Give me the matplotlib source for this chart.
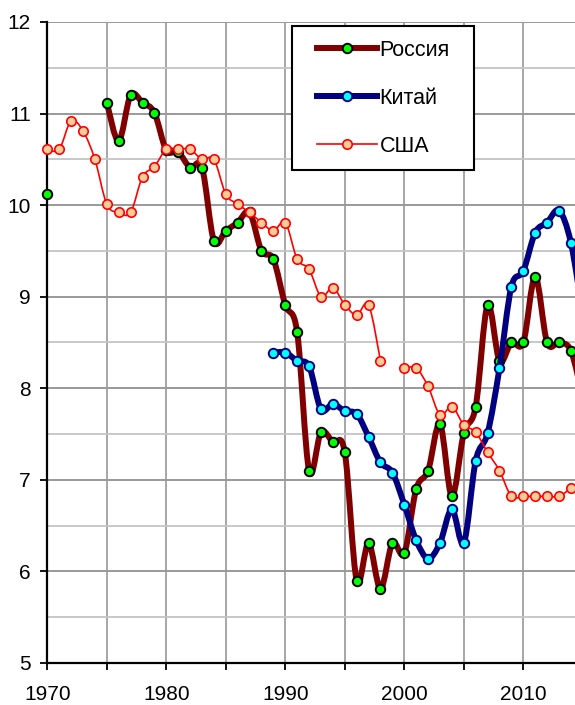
import numpy as np
import matplotlib
matplotlib.use("Agg")
import matplotlib.pyplot as plt
from matplotlib.path import Path
from matplotlib.patches import PathPatch, Rectangle
from matplotlib.lines import Line2D
from matplotlib.transforms import Bbox, TransformedBbox
from matplotlib.ticker import MultipleLocator, FuncFormatter

plt.rcParams['font.family'] = ['Liberation Sans', 'DejaVu Sans']

nan = np.nan
years = np.arange(1970, 2016)

russia = [10.12, nan, nan, nan, nan, 11.12, 10.70, 11.20, 11.12, 11.01,
          10.60, 10.58, 10.41, 10.41, 9.61, 9.72, 9.81, 9.92, 9.50, 9.41,
          8.91, 8.61, 7.10, 7.52, 7.41, 7.30, 5.90, 6.31, 5.81, 6.31,
          6.20, 6.90, 7.10, 7.61, 6.82, 7.51, 7.80, 8.91, 8.30, 8.50,
          8.50, 9.22, 8.50, 8.50, 8.41, 7.90]

china = [nan] * 19 + [8.39,
         8.39, 8.30, 8.24, 7.77, 7.83, 7.75, 7.72, 7.47, 7.19, 7.08,
         6.73, 6.34, 6.14, 6.31, 6.68, 6.31, 7.21, 7.51, 8.22, 9.11,
         9.28, 9.70, 9.81, 9.94, 9.59, 8.80]

usa = [10.61, 10.61, 10.92, 10.81, 10.50, 10.01, 9.92, 9.92, 10.31, 10.42,
       10.61, 10.61, 10.61, 10.50, 10.50, 10.12, 10.01, 9.92, 9.81, 9.72,
       9.81, 9.41, 9.30, 9.00, 9.10, 8.91, 8.80, 8.91, 8.30, nan,
       8.22, 8.22, 8.02, 7.71, 7.80, 7.60, 7.52, 7.30, 7.10, 6.82,
       6.82, 6.82, 6.82, 6.82, 6.91, nan]

labels = ["Россия", "Китай", "США"]


def smooth_path(x, y):
    # Excel-like smoothed line: cubic bezier through the points
    verts = [(x[0], y[0])]
    codes = [Path.MOVETO]
    n = len(x)
    for i in range(n - 1):
        p0 = i - 1 if i > 0 else i
        p3 = i + 2 if i + 2 < n else i + 1
        c1 = (x[i] + (x[i + 1] - x[p0]) / 6, y[i] + (y[i + 1] - y[p0]) / 6)
        c2 = (x[i + 1] - (x[p3] - x[i]) / 6, y[i + 1] - (y[p3] - y[i]) / 6)
        verts += [c1, c2, (x[i + 1], y[i + 1])]
        codes += [Path.CURVE4] * 3
    return Path(verts, codes)


def draw_series(ax, vals, color, lw, mfc, mec, ms, mew, z):
    vals = np.array(vals, dtype=float)
    ok = ~np.isnan(vals)
    # split into runs of consecutive values
    runs = []
    cur = []
    for i in range(len(vals)):
        if ok[i]:
            cur.append(i)
        else:
            if cur:
                runs.append(cur)
            cur = []
    if cur:
        runs.append(cur)
    for r in runs:
        if len(r) < 2:
            continue
        p = smooth_path(years[r].astype(float), vals[r])
        ax.add_patch(PathPatch(p, facecolor='none', edgecolor=color, lw=lw,
                               capstyle='round', joinstyle='round', zorder=z))
    ln, = ax.plot(years[ok], vals[ok], linestyle='none', marker='o', ms=ms,
                  mfc=mfc, mec=mec, mew=mew, zorder=z + 0.5)
    # let markers hang over the left spine but not past the right edge
    ln.set_clip_path(None)
    ln.set_clip_box(TransformedBbox(Bbox([[-0.1, -0.1], [1.0, 1.1]]), ax.transAxes))


fig = plt.figure(figsize=(5.75, 7.05), dpi=100)
ax = fig.add_axes([47.3 / 575, 42 / 705, 527.7 / 575, 641 / 705])

draw_series(ax, russia, '#800000', 4.3, '#00ff00', 'black', 6.8, 1.4, 3)
draw_series(ax, china, '#000080', 4.3, '#00ffff', '#000080', 6.8, 1.4, 4)
draw_series(ax, usa, '#ff0000', 1.2, '#ffcc99', '#ff0000', 6.8, 1.2, 5)

ax.set_xlim(1970, 1970 + 527.7 / 11.9)
ax.set_ylim(5, 12)

ax.xaxis.set_major_locator(MultipleLocator(5))
ax.xaxis.set_major_formatter(FuncFormatter(lambda v, p: "%d" % v if int(round(v)) % 10 == 0 else ""))
ax.yaxis.set_major_locator(MultipleLocator(1))
ax.yaxis.set_minor_locator(MultipleLocator(0.5))

ax.tick_params(axis='x', which='major', length=5, width=1.3, pad=11, labelsize=15, direction='out')
ax.tick_params(axis='y', which='major', length=5, width=1.3, pad=7, labelsize=15, direction='out')
ax.tick_params(axis='y', which='minor', length=0)

ax.grid(axis='x', which='major', color='#a6a6a6', linewidth=1.4)
ax.grid(axis='y', which='major', color='#999999', linewidth=1.4)
ax.grid(axis='y', which='minor', color='#c4c4c4', linewidth=1.3)
ax.set_axisbelow(True)

for s in ['top', 'right']:
    ax.spines[s].set_visible(False)
ax.spines['left'].set_linewidth(1.6)
ax.spines['bottom'].set_linewidth(1.6)

# legend box
ax.add_patch(Rectangle(((291.7 - 47.3) / 527.7, (663 - 170) / 641), 182 / 527.7, 144 / 641,
                       transform=ax.transAxes, facecolor='white', edgecolor='black',
                       lw=1.5, zorder=9, clip_on=False))

handles = [
    Line2D([], [], color='#800000', lw=4.3, marker='o', ms=6.8, mfc='#00ff00', mec='black', mew=1.4),
    Line2D([], [], color='#000080', lw=4.3, marker='o', ms=6.8, mfc='#00ffff', mec='#000080', mew=1.4),
    Line2D([], [], color='#ff0000', lw=1.2, marker='o', ms=6.8, mfc='#ffcc99', mec='#ff0000', mew=1.2),
]
leg = ax.legend(handles, labels, loc='upper left', bbox_to_anchor=((316.7 - 47.3) / 527.7, (663 - 40) / 641),
                frameon=False, borderpad=0, borderaxespad=0, handlelength=2.8, handletextpad=0.12,
                labelspacing=1.25, fontsize=15.5, numpoints=1)
leg.set_zorder(10)

fig.savefig("out.png", dpi=100)
